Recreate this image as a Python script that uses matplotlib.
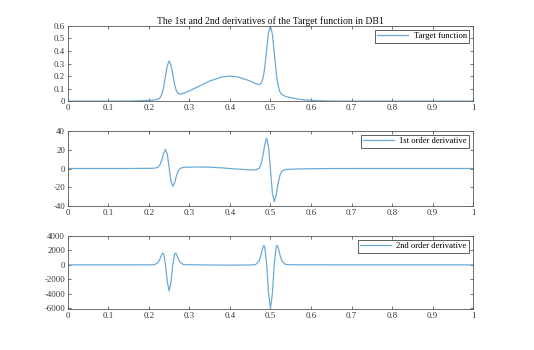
import matplotlib
matplotlib.use("Agg")
import matplotlib.pyplot as plt

plt.rcParams['font.family'] = ['Liberation Serif', 'DejaVu Serif']

# sample positions
x = [0, 0.1, 0.15, 0.2, 0.214, 0.223, 0.2275, 0.232, 0.2343, 0.2365, 0.241, 0.2455, 0.25,
     0.2545, 0.259, 0.2635, 0.2658, 0.268, 0.2725, 0.277, 0.286,
     0.3, 0.32, 0.35, 0.38, 0.4, 0.42, 0.45,
     0.4628, 0.4721, 0.4767, 0.4814, 0.4837, 0.486, 0.4907, 0.4953, 0.5,
     0.5047, 0.5093, 0.514, 0.5163, 0.5186, 0.5233, 0.5279, 0.5372,
     0.55, 0.575, 0.6, 0.65, 0.7, 0.8, 0.9, 1.0]

target = [0, 0.0001, 0.0008, 0.0058, 0.0094, 0.0157, 0.0272, 0.0560, 0.0809, 0.1138, 0.1989, 0.2827, 0.3202,
          0.2892, 0.2120, 0.1334, 0.1039, 0.0822, 0.0602, 0.0556, 0.0631,
          0.0824, 0.1134, 0.1602, 0.1930, 0.2, 0.1930, 0.1602,
          0.1412, 0.1319, 0.1415, 0.1815, 0.2199, 0.2726, 0.4118, 0.5483, 0.598,
          0.5345, 0.3847, 0.2319, 0.1728, 0.1278, 0.0747, 0.0527, 0.0379,
          0.0272, 0.0132, 0.0058, 0.0008, 0.0001, 0, 0, 0]

deriv1 = [0, 0.01, 0.04, 0.21, 0.35, 1.47, 4.01, 9.30, 12.83, 16.40, 20.35, 15.03, 0.72,
          -13.58, -18.89, -14.93, -11.36, -7.81, -2.50, 0.06, 1.32,
          1.46, 1.61, 1.42, 0.69, 0, -0.69, -1.42,
          -1.50, 0.25, 4.52, 13.53, 19.56, 25.65, 32.36, 23.16, -1.46,
          -26.07, -35.25, -28.51, -22.40, -16.34, -7.27, -2.93, -0.99,
          -0.72, -0.41, -0.21, -0.04, -0.01, 0, 0, 0]

deriv2 = [0, 0, 1, 6, 27, 331, 845, 1480, 1626, 1481, 13, -2380, -3603,
          -2380, 15, 1483, 1629, 1483, 849, 336, 32,
          11, 3, -16, -32, -35, -32, -16,
          24, 532, 1387, 2442, 2685, 2444, 5, -3972, -6001,
          -3965, 16, 2459, 2702, 2461, 1409, 558, 57,
          14, 10, 6, 2, 0, 0, 0, 0]

xticks = [0, 0.1, 0.2, 0.3, 0.4, 0.5, 0.6, 0.7, 0.8, 0.9, 1]
xticklabels = ['0', '0.1', '0.2', '0.3', '0.4', '0.5', '0.6', '0.7', '0.8', '0.9', '1']

panels = [
    (target, 'Target function', [0, 0.1, 0.2, 0.3, 0.4, 0.5, 0.6],
     ['0', '0.1', '0.2', '0.3', '0.4', '0.5', '0.6'], (0, 0.6), [0.127, 0.711, 0.759, 0.215]),
    (deriv1, '1st order derivative', [-40, -20, 0, 20, 40],
     ['-40', '-20', '0', '20', '40'], (-40, 40), [0.127, 0.411, 0.759, 0.215]),
    (deriv2, '2nd order derivative', [-6000, -4000, -2000, 0, 2000, 4000],
     ['-6000', '-4000', '-2000', '0', '2000', '4000'], (-6100, 4000), [0.127, 0.117, 0.759, 0.209]),
]

line_color = '#6aaad6'
edge = '#333333'

fig = plt.figure(figsize=(5.34, 3.5), dpi=100)
for i, (ys, label, yt, ytl, ylim, pos) in enumerate(panels):
    ax = fig.add_axes(pos)
    ax.plot(x, ys, color=line_color, lw=0.9, label=label)
    ax.set_xlim(0, 1)
    ax.set_ylim(*ylim)
    ax.set_xticks(xticks)
    ax.set_xticklabels(xticklabels)
    ax.set_yticks(yt)
    ax.set_yticklabels(ytl)
    ax.tick_params(direction='in', length=2.5, width=0.5, labelsize=6.3, colors=edge,
                   top=True, right=True, pad=2)
    for s in ax.spines.values():
        s.set_linewidth(0.6)
        s.set_color('#555555')
    leg = ax.legend(loc='upper right', fontsize=6.2, handlelength=3.6, fancybox=False,
                    framealpha=1, borderpad=0.25, borderaxespad=0.5, handletextpad=0.6)
    leg.get_frame().set_edgecolor('#444444')
    leg.get_frame().set_linewidth(0.6)
    if i == 0:
        ax.set_title('The 1st and 2nd derivatives of the Target function in DB1',
                     fontsize=7, pad=1.5, color='#111111')

fig.savefig('out.png', dpi=100)
